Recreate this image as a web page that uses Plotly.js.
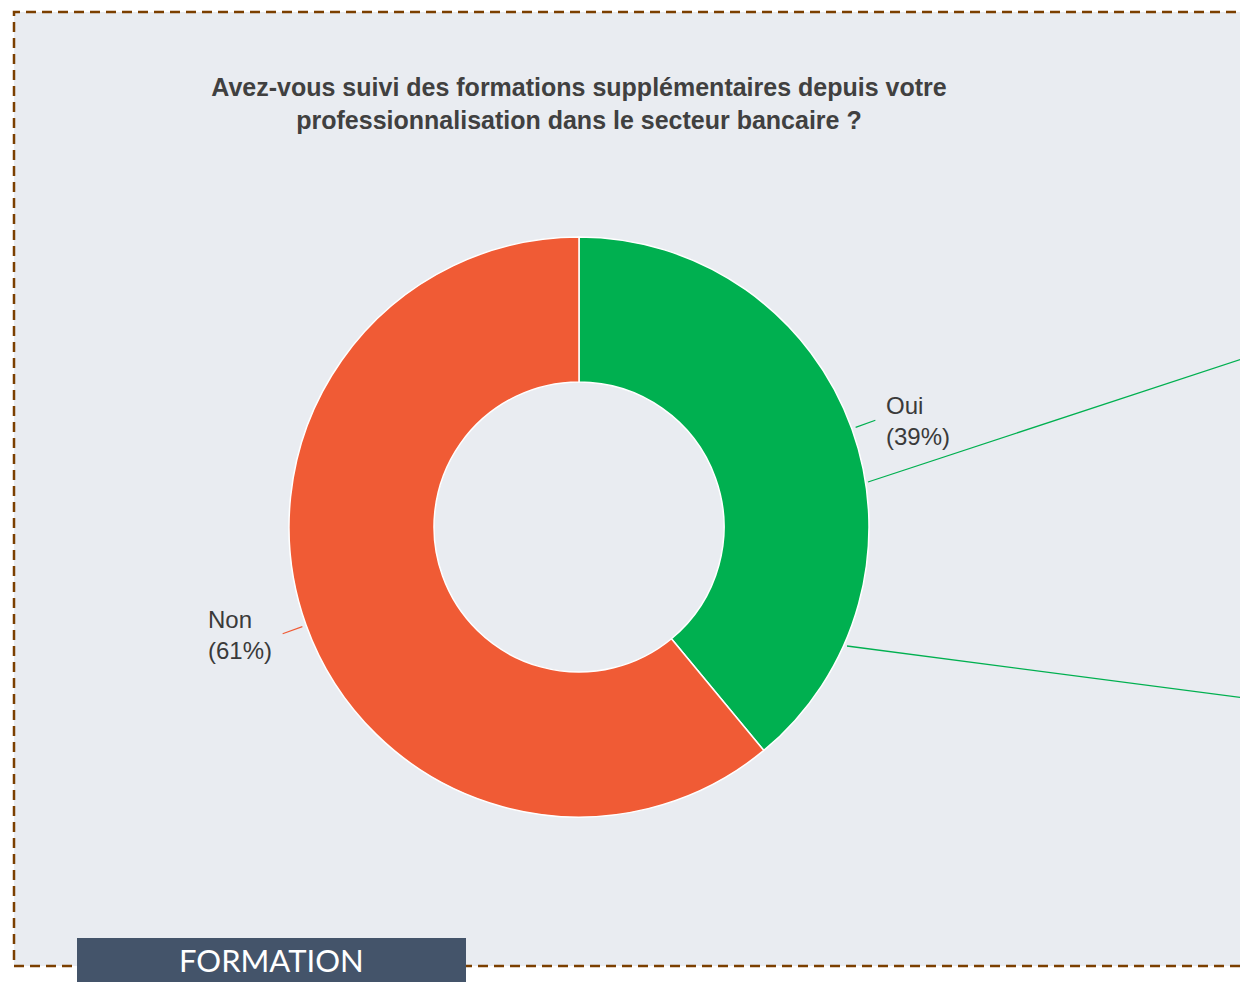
<!DOCTYPE html>
<html>
<head>
<meta charset="utf-8">
<script src="https://cdn.plot.ly/plotly-3.0.1.min.js"></script>
<style>
html,body{margin:0;padding:0;background:#ffffff;overflow:hidden;}
#chart{width:1240px;height:982px;}
</style>
</head>
<body>
<div id="chart"></div>
<script>
const labels = ["Oui", "Non"];
const values = [39, 61];
const colors = ["#00B050", "#F05B35"];
const titleText = "Avez-vous suivi des formations supplémentaires depuis votre<br>professionnalisation dans le secteur bancaire ?";
const tagText = "FORMATION";

const W = 1240, H = 982;
const cx = 579, cy = 527, R = 290;
const px = x => x / W;
const py = y => 1 - y / H;

// leader lines and outside labels computed from the data
const total = values.reduce((a, b) => a + b, 0);
const leaders = [];
const labelAnns = [];
let cum = 0;
values.forEach((v, i) => {
  const mid = (cum + v / 2) / total * 2 * Math.PI;
  cum += v;
  const dx = Math.sin(mid), dy = -Math.cos(mid);
  const ex = cx + dx * (R + 25), ey = cy + dy * (R + 25);
  leaders.push({
    type: 'line', xref: 'paper', yref: 'paper',
    x0: px(cx + dx * (R + 4)), y0: py(cy + dy * (R + 4)),
    x1: px(ex), y1: py(ey),
    line: {color: colors[i], width: 1.2}
  });
  const right = dx > 0;
  labelAnns.push({
    text: labels[i] + '<br>(' + Math.round(v / total * 100) + '%)',
    xref: 'paper', yref: 'paper',
    x: px(ex + (right ? 9 : -9)), y: py(ey + 1),
    xanchor: right ? 'left' : 'right', yanchor: 'middle', align: 'left',
    showarrow: false,
    font: {family: 'Liberation Sans, Arial, sans-serif', size: 24, color: '#3a3a3a'}
  });
});

const data = [{
  type: 'pie',
  labels: labels,
  values: values,
  sort: false,
  direction: 'clockwise',
  rotation: 0,
  hole: 0.5,
  marker: {colors: colors, line: {color: '#ffffff', width: 1.5}},
  textinfo: 'none',
  domain: {x: [px(cx - R), px(cx + R)], y: [py(cy + R), py(cy - R)]},
  showlegend: false,
  hoverinfo: 'label+percent'
}];

const shapes = [
  {type: 'rect', xref: 'paper', yref: 'paper', layer: 'below',
   x0: px(14), x1: px(1300), y0: py(966), y1: py(12),
   fillcolor: '#E9ECF1', line: {color: '#7B3F00', width: 2.5, dash: '10px,6px'}},
  {type: 'line', xref: 'paper', yref: 'paper',
   x0: px(868), y0: py(482), x1: px(1260), y1: py(353),
   line: {color: '#00B050', width: 1.3}},
  {type: 'line', xref: 'paper', yref: 'paper',
   x0: px(847), y0: py(646), x1: px(1260), y1: py(700),
   line: {color: '#00B050', width: 1.3}},
  {type: 'rect', xref: 'paper', yref: 'paper',
   x0: px(77), x1: px(466), y0: py(990), y1: py(938),
   fillcolor: '#44546A', line: {width: 0}}
].concat(leaders);

const layout = {
  width: W, height: H,
  margin: {l: 0, r: 0, t: 0, b: 0},
  paper_bgcolor: '#ffffff',
  title: {
    text: titleText,
    x: px(579), xanchor: 'center', xref: 'paper',
    y: py(96), yanchor: 'top', yref: 'paper',
    font: {family: 'Liberation Sans, Arial, sans-serif', size: 25, color: '#404040', weight: 'bold'}
  },
  shapes: shapes,
  annotations: labelAnns.concat([{
    text: tagText, xref: 'paper', yref: 'paper',
    x: px(271), y: py(960), xanchor: 'center', yanchor: 'middle',
    showarrow: false,
    font: {family: 'Lato, Open Sans, sans-serif', size: 31, color: '#ffffff'}
  }])
};

Plotly.newPlot('chart', data, layout, {displayModeBar: false, staticPlot: true});
</script>
</body>
</html>
